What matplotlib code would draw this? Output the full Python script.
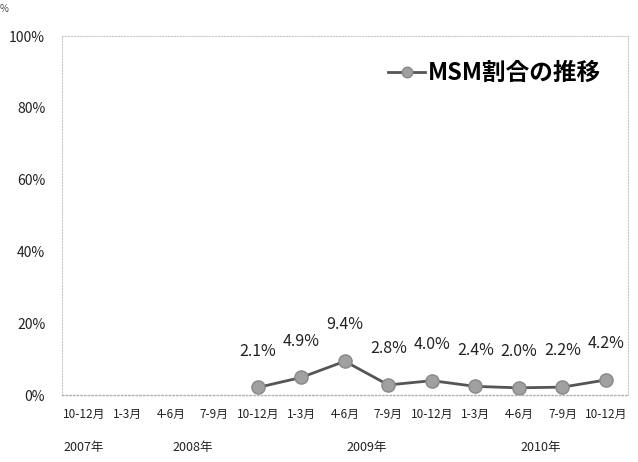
import matplotlib.pyplot as plt
import numpy as np

plt.rcParams['font.family'] = ['Noto Sans CJK JP', 'DejaVu Sans']

# datos
quarters = ['10-12月', '1-3月', '4-6月', '7-9月', '10-12月', '1-3月', '4-6月',
            '7-9月', '10-12月', '1-3月', '4-6月', '7-9月', '10-12月']
years = ['2007年', '2008年', '2009年', '2010年']
year_pos = [0, 2.5, 6.5, 10.5]
msm = [np.nan, np.nan, np.nan, np.nan, 2.1, 4.9, 9.4, 2.8, 4.0, 2.4, 2.0, 2.2, 4.2]
msm_labels = ['2.1%', '4.9%', '9.4%', '2.8%', '4.0%', '2.4%', '2.0%', '2.2%', '4.2%']

fig = plt.figure(figsize=(6.38, 4.62), dpi=100)
ax = fig.add_axes([0.097, 0.145, 0.887, 0.777])

x = np.arange(len(quarters))
ax.plot(x, msm, color='#555555', lw=2, marker='o', ms=9.5,
        markerfacecolor='#a0a0a0', markeredgecolor='#888888', markeredgewidth=1,
        label='MSM割合の推移')

# etiquetas de datos
xs = [i for i, v in enumerate(msm) if not np.isnan(v)]
for xi, lab in zip(xs, msm_labels):
    ax.annotate(lab, (xi, msm[xi]), xytext=(0, 20), textcoords='offset points',
                ha='center', va='bottom', fontsize=11.5, color='#222222')

ax.set_xlim(-0.5, len(quarters) - 0.5)
ax.set_ylim(0, 100)
ax.set_yticks(np.arange(0, 101, 20))
ax.set_yticklabels([f'{v}%' for v in range(0, 101, 20)], fontsize=10, color='#222222')
ax.set_xticks(x)
ax.set_xticklabels(quarters, fontsize=8.5, color='#222222')
ax.tick_params(axis='both', length=0)
ax.tick_params(axis='y', pad=12)
ax.tick_params(axis='x', pad=9)

for yl, yp in zip(years, year_pos):
    ax.text(yp, -0.147, yl, transform=ax.get_xaxis_transform(), ha='center',
            va='center', fontsize=9, color='#222222')

for s in ['left', 'right', 'top']:
    ax.spines[s].set_color('#c8c8c8')
    ax.spines[s].set_linestyle(':')
    ax.spines[s].set_linewidth(0.8)
ax.spines['bottom'].set_color('#b0b0b0')
ax.spines['bottom'].set_linestyle(':')
ax.spines['bottom'].set_linewidth(1)

leg = ax.legend(loc='upper right', bbox_to_anchor=(0.99, 0.99), frameon=False,
                prop={'size': 17, 'weight': 'bold'}, handlelength=1.6,
                handletextpad=0.1, markerscale=0.8)

fig.text(0.0, 0.975, '%', fontsize=7, color='#444444')

fig.savefig('out.png', dpi=100)
